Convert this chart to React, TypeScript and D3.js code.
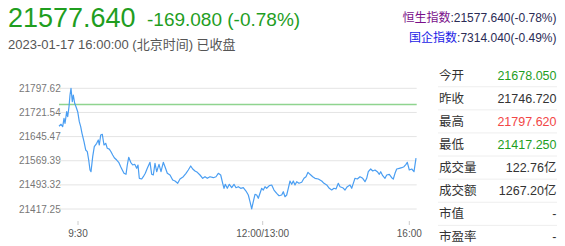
import React from 'react';
import * as d3 from 'd3';

// ---- data ----
const lastPrice = '21577.640';
const changeText = '-169.080 (-0.78%)';
const timeText = '2023-01-17 16:00:00 (北京时间) 已收盘';
const indexLinks = [
  { name: '恒生指数', value: ':21577.640(-0.78%)', color: '#7a0f8a' },
  { name: '国企指数', value: ':7314.040(-0.49%)', color: '#1a1ae6' },
];

// session position (slot) of each sampled point, and the index value there
const slots = [
  0, 2, 3.7, 5, 6, 7.7, 8.7, 10, 11, 12, 13.3, 14.3, 15.7, 17, 18.7, 20.3, 21.7, 23, 25, 26.7,
  28.3, 29.7, 31, 32, 33.7, 35.3, 37.7, 39.3, 40.3, 41.7, 43.3, 45, 46.7, 48.3, 50.3, 52, 53.7, 55.3, 57.7, 59.7,
  61.7, 63.3, 65, 67, 68.3, 69.7, 71.7, 73.7, 75.7, 77.7, 79, 80.3, 82.7, 84.3, 86.3, 88.3, 91, 92.7, 94.3, 96,
  97.7, 100, 102, 104.3, 106, 108.3, 111, 113.7, 116, 118.7, 121, 124.3, 127, 129.3, 131.7, 133.7, 136, 138.3, 141, 143.7,
  146, 148.3, 151, 154.3, 157, 159.3, 161.7, 163.7, 165, 166.3, 168.3, 170.3, 172.7, 175, 177, 179.3, 181.7, 184.3, 187, 189.3,
  191, 192.7, 194.3, 196, 197.7, 199.3, 201, 202.7, 204.3, 206, 207.7, 210.3, 212.7, 215, 217.7, 220, 222.7, 224.3, 226, 227.7,
  229.3, 231, 232.7, 234.3, 236, 237.7, 240, 242.7, 245, 247, 249, 251, 253.7, 256, 259.3, 262.7, 265, 267.7, 270.3, 272.7,
  275, 277, 279.3, 281, 283.7, 286, 288.3, 291, 292.7, 294.3, 296, 298.3, 301, 303.7, 306, 307.7, 309.3, 311.7, 313.7, 316,
  318.3, 320.3, 321.7, 323.7, 326, 327.7, 330.3, 332.7, 334.3, 336, 337.7, 340.3, 342.7, 345, 347, 348.3, 350.3, 352.7, 355, 357,
];
const prices = [
  21678.0, 21684.2, 21676.6, 21703.1, 21687.3, 21723.9, 21708.1, 21739.6, 21776.5, 21797.6, 21755.4, 21776.5, 21750.4, 21739.6, 21723.9, 21692.4, 21676.6, 21655.8, 21629.3, 21603.2,
  21597.8, 21571.6, 21540.2, 21534.8, 21582.1, 21613.6, 21624.3, 21634.7, 21618.9, 21650.4, 21652.6, 21618.9, 21624.3, 21608.5, 21606.0, 21597.8, 21587.4, 21578.9, 21571.6, 21564.4,
  21550.5, 21540.2, 21529.7, 21526.6, 21555.9, 21580.2, 21564.4, 21555.9, 21558.1, 21545.5, 21555.9, 21514.0, 21511.8, 21519.0, 21529.7, 21545.5, 21564.4, 21526.6, 21524.4, 21561.3,
  21534.8, 21558.1, 21534.8, 21564.4, 21550.5, 21529.7, 21524.4, 21508.6, 21505.5, 21498.2, 21511.8, 21519.0, 21529.7, 21540.2, 21552.8, 21543.3, 21537.0, 21532.9, 21524.4, 21514.0,
  21519.0, 21514.0, 21519.0, 21515.9, 21519.0, 21529.7, 21524.4, 21498.2, 21482.5, 21495.1, 21482.5, 21495.1, 21484.4, 21495.1, 21484.4, 21487.5, 21482.5, 21484.4, 21473.9, 21461.4,
  21440.3, 21417.3, 21440.3, 21463.6, 21461.4, 21451.0, 21466.7, 21482.5, 21477.1, 21487.5, 21482.5, 21490.7, 21492.9, 21477.1, 21466.7, 21459.1, 21461.4, 21471.8, 21456.0, 21461.4,
  21482.5, 21505.5, 21495.1, 21505.5, 21492.9, 21503.3, 21498.2, 21501.4, 21514.0, 21519.0, 21532.9, 21526.6, 21519.0, 21514.0, 21511.8, 21505.5, 21498.2, 21492.9, 21482.5, 21477.1,
  21482.5, 21480.3, 21498.2, 21487.5, 21484.4, 21477.1, 21487.5, 21492.9, 21482.5, 21498.2, 21514.0, 21511.8, 21519.0, 21514.0, 21503.3, 21514.0, 21534.8, 21543.3, 21537.0, 21540.2,
  21534.8, 21526.6, 21534.8, 21522.2, 21514.0, 21524.4, 21526.6, 21515.9, 21511.8, 21529.7, 21543.3, 21545.5, 21547.4, 21550.5, 21558.1, 21564.4, 21540.2, 21543.3, 21534.8, 21577.6,
];
const slotDomain = [0, 357.7];

const yTicks = [21797.62, 21721.546, 21645.472, 21569.398, 21493.324, 21417.25];
const yTickLabels = ['21797.620', '21721.546', '21645.472', '21569.398', '21493.324', '21417.250'];
const xTickSlots = [19, 203.7, 350.3];
const xTickLabels = ['9:30', '12:00/13:00', '16:00'];
const prevClose = 21746.72;

const statLabels = ['今开', '昨收', '最高', '最低', '成交量', '成交额', '市值', '市盈率'];
const statValues = ['21678.050', '21746.720', '21797.620', '21417.250', '122.76亿', '1267.20亿', '-', '-'];
const statTones = ['down', 'flat', 'up', 'down', 'flat', 'flat', 'flat', 'flat'];

// ---- styles ----
const FONT = '"Liberation Sans", Arial, "Noto Sans CJK SC", sans-serif';
const GREEN = '#1f9e1f';
const RED = '#f24646';
const TEXT = '#333333';
const toneColor: Record<string, string> = { up: RED, down: GREEN, flat: TEXT };

export default function App() {
  const W = 565;
  const H = 246;
  const plot = { left: 59, right: 416.7, top: 88.3, bottom: 209 };

  const x = d3.scaleLinear().domain(slotDomain).range([plot.left, plot.right]);
  const y = d3
    .scaleLinear()
    .domain([yTicks[yTicks.length - 1], yTicks[0]])
    .range([plot.bottom, plot.top]);

  const line = d3
    .line<number>()
    .x((_, i) => x(slots[i]))
    .y((d) => y(d));

  const rowY = d3
    .scalePoint<string>()
    .domain(statLabels)
    .range([75.2, 236.9]);
  const rowStep = rowY.step();

  return (
    <svg
      width={W}
      height={H}
      style={{ position: 'absolute', left: 0, top: 0, background: '#fff' }}
      fontFamily={FONT}
    >
      <defs>
        <clipPath id="ylab">
          <rect x={0} y={70} width={61} height={150} />
        </clipPath>
      </defs>

      {/* header */}
      <text x={8} y={27} fontSize={27} fill={GREEN}>
        {lastPrice}
      </text>
      <text x={147} y={26} fontSize={19} fill={GREEN}>
        {changeText}
      </text>
      <text x={8} y={49} fontSize={13} fill="#555">
        {timeText}
      </text>

      {indexLinks.map((l, i) => (
        <text key={l.name} x={556.5} y={22 + i * 19.5} fontSize={12} textAnchor="end">
          <tspan fill={l.color}>{l.name}</tspan>
          <tspan fill="#2b2b55">{l.value}</tspan>
        </text>
      ))}

      {/* y labels (under the plot) */}
      <g clipPath="url(#ylab)">
        {yTicks.map((t, i) => (
          <text key={t} x={19} y={y(t)} dy="0.35em" fontSize={10} fill="#777">
            {yTickLabels[i]}
          </text>
        ))}
      </g>

      {/* grid */}
      {yTicks.map((t) => (
        <line
          key={t}
          x1={plot.left}
          x2={plot.right}
          y1={y(t)}
          y2={y(t)}
          stroke="#e4e4e4"
          strokeWidth={1}
        />
      ))}

      {/* prev close */}
      <line
        x1={plot.left}
        x2={plot.right}
        y1={y(prevClose)}
        y2={y(prevClose)}
        stroke="#8fd48f"
        strokeWidth={1.5}
      />

      {/* price line */}
      <path d={line(prices) || ''} fill="none" stroke="#4a9ef2" strokeWidth={1.2} strokeLinejoin="round" />

      {/* x ticks */}
      {xTickSlots.map((s, i) => (
        <g key={s}>
          <line x1={x(s)} x2={x(s)} y1={221} y2={225} stroke="#ccc" />
          <text x={x(s)} y={236.5} fontSize={10} fill="#555" textAnchor="middle">
            {xTickLabels[i]}
          </text>
        </g>
      ))}

      {/* stats table */}
      {statLabels.map((lab, i) => {
        const cy = rowY(lab) as number;
        return (
          <g key={lab}>
            <text x={439} y={cy} dy="0.36em" fontSize={12.5} fill={TEXT}>
              {lab}
            </text>
            <text x={556.5} y={cy} dy="0.36em" fontSize={12.5} fill={toneColor[statTones[i]]} textAnchor="end">
              {statValues[i]}
            </text>
            <line x1={438} x2={557} y1={cy + rowStep / 2} y2={cy + rowStep / 2} stroke="#eeeeee" />
          </g>
        );
      })}
    </svg>
  );
}
